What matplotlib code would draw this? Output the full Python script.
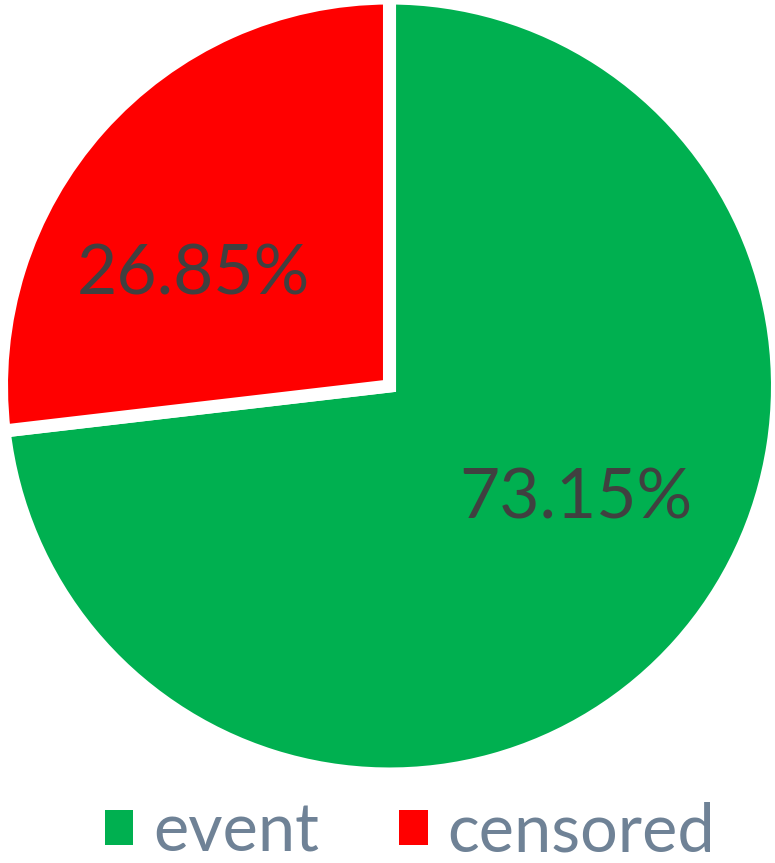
import matplotlib
matplotlib.use("Agg")
import matplotlib.pyplot as plt

categories = ["event", "censored"]
values = [73.15, 26.85]
colors = ["#00B050", "#FF0000"]
label_texts = ["73.15%", "26.85%"]

W, H = 775, 863
fig = plt.figure(figsize=(W / 100, H / 100), dpi=100)
ax = fig.add_axes([0, 0, 1, 1])

R = 388
cx, cy = 389.5, H - 386
wedges, _ = ax.pie(values, colors=colors, startangle=90, counterclock=False,
                   radius=R, center=(cx, cy),
                   wedgeprops=dict(linewidth=9.4, edgecolor="white",
                                   joinstyle="miter"))
ax.set_xlim(0, W)
ax.set_ylim(0, H)
ax.set_aspect("equal")
ax.axis("off")

# percentage labels
label_pos = [(576, H - 499), (193, H - 275)]
for txt, (x, y) in zip(label_texts, label_pos):
    ax.text(x, y, txt, ha="center", va="center", fontsize=50,
            family="Lato", color="#404040")

leg = fig.legend(wedges, categories, loc="center",
                 bbox_to_anchor=(410 / W, 1 - 832 / H), ncol=2, frameon=False,
                 handlelength=0.43, handleheight=0.43,
                 handletextpad=0.3, columnspacing=1.2,
                 borderpad=0.0, borderaxespad=0.0,
                 prop={"family": "Lato", "size": 48})
for t in leg.get_texts():
    t.set_color("#6f8296")
for h in leg.legend_handles:
    h.set_linewidth(0)

fig.savefig("out.png", dpi=100)
